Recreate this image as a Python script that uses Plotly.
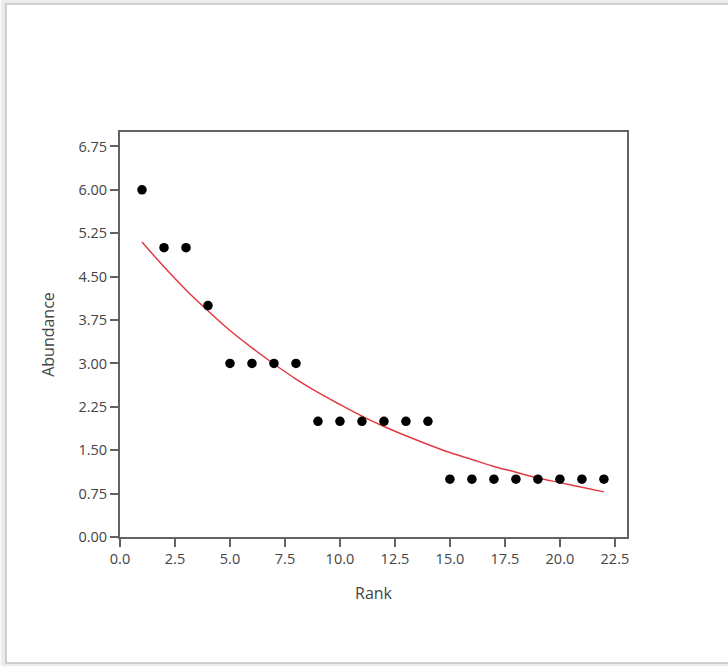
import plotly.graph_objects as go

# Observed data
rank = list(range(1, 23))
abundance = [6, 5, 5, 4, 3, 3, 3, 3, 2, 2, 2, 2, 2, 2, 1, 1, 1, 1, 1, 1, 1, 1]

# Fitted curve, values at each rank
fit_rank = list(range(1, 23))
fit_values = [5.10, 4.67, 4.27, 3.91, 3.57, 3.27, 2.99, 2.73, 2.50, 2.29, 2.09,
              1.91, 1.75, 1.60, 1.46, 1.34, 1.22, 1.12, 1.02, 0.94, 0.86, 0.78]

x_ticks = [0.0, 2.5, 5.0, 7.5, 10.0, 12.5, 15.0, 17.5, 20.0, 22.5]
y_ticks = [0.00, 0.75, 1.50, 2.25, 3.00, 3.75, 4.50, 5.25, 6.00, 6.75]

font_family = "Open Sans, Noto Sans, sans-serif"

fig = go.Figure()
fig.add_trace(go.Scatter(
    x=fit_rank, y=fit_values, mode="lines",
    line=dict(color="#e23a44", width=1.5, shape="spline"),
    hoverinfo="skip", showlegend=False,
))
fig.add_trace(go.Scatter(
    x=rank, y=abundance, mode="markers",
    marker=dict(color="black", size=9.5),
    showlegend=False,
))

axis_common = dict(
    showline=True, linecolor="#626262", linewidth=2, mirror=True,
    ticks="outside", ticklen=8, tickwidth=1.5, tickcolor="#626262",
    showgrid=False, zeroline=False,
    tickfont=dict(family=font_family, size=14.5, color="#444444"),
)

fig.update_layout(
    width=728, height=666,
    margin=dict(l=120, r=101, t=132, b=129),
    paper_bgcolor="white", plot_bgcolor="white",
    xaxis=dict(
        range=[0, 23.05], tickvals=x_ticks,
        ticktext=[f"{v:.1f}" for v in x_ticks],
        title=dict(text="Rank", standoff=20,
                   font=dict(family=font_family, size=16, color="#444444")),
        **axis_common,
    ),
    yaxis=dict(
        range=[0, 7.0], tickvals=y_ticks,
        ticktext=[f"{v:.2f}" for v in y_ticks],
        title=dict(text="Abundance", standoff=20,
                   font=dict(family=font_family, size=16, color="#444444")),
        **axis_common,
    ),
    shapes=[
        dict(type="rect", xref="paper", yref="paper",
             x0=-0.2300, x1=1.25, y0=-0.3160, y1=1.3235,
             line=dict(color="#ececec", width=5), layer="below"),
        dict(type="rect", xref="paper", yref="paper",
             x0=-0.2249, x1=1.25, y0=-0.3110, y1=1.3160,
             line=dict(color="#c2c2c2", width=1.5), layer="below"),
    ],
)

fig.write_html("out.html", config={"displayModeBar": False},
               post_script="document.body.style.margin='0';")
